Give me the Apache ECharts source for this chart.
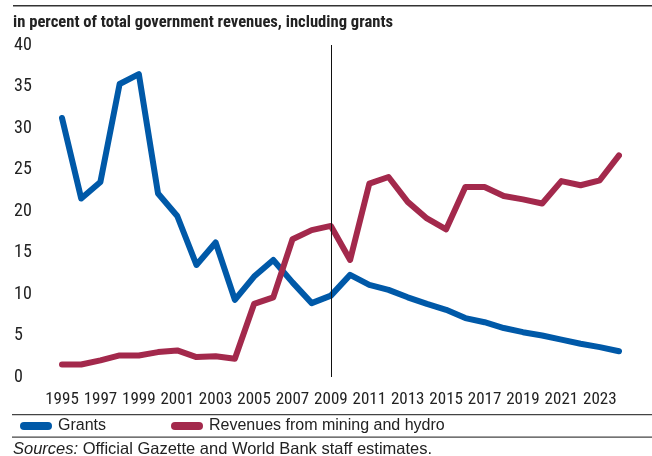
<!DOCTYPE html>
<html><head><meta charset="utf-8">
<script src="https://cdn.jsdelivr.net/npm/echarts@6/dist/echarts.min.js"></script>
<style>html,body{margin:0;padding:0;background:#fff}#c{width:652px;height:456px}</style>
</head><body><div id="c"></div>
<script>
const years = [];
for (let y = 1995; y <= 2024; y++) years.push(String(y));
const grants = [31.2,21.5,23.5,35.3,36.5,22.1,19.4,13.5,16.2,9.3,12.1,14.1,11.4,8.9,9.8,12.3,11.1,10.5,9.6,8.8,8.1,7.1,6.6,5.9,5.4,5.0,4.5,4.0,3.6,3.1];
const mining = [1.5,1.5,2.0,2.6,2.6,3.0,3.2,2.4,2.5,2.2,8.8,9.6,16.6,17.7,18.2,14.1,23.3,24.1,21.1,19.1,17.8,22.9,22.9,21.8,21.4,20.9,23.6,23.1,23.7,26.7];
const seriesNames = ['Grants', 'Revenues from mining and hydro'];
const colors = ['#0059A8', '#A3294C'];
const FONT = '"Liberation Sans Narrow", "Arial Narrow", "Roboto Condensed", "Liberation Sans", sans-serif';
const FONT2 = '"Liberation Sans", Arial, sans-serif';
const chart = echarts.init(document.getElementById('c'));
const legendX = [20, 171];
const legendGraphics = [];
seriesNames.forEach((n, i) => {
  legendGraphics.push({type: 'rect', shape: {x: legendX[i], y: 422, width: 32, height: 8, r: 4}, style: {fill: colors[i]}});
  legendGraphics.push({type: 'text', left: legendX[i] + 38, top: 418, style: {text: n, font: '16px ' + FONT2, fill: '#222'}});
});
chart.setOption({
  animation: false,
  grid: {left: 62, right: 33, top: 45, bottom: 79},
  xAxis: {
    type: 'category', data: years, boundaryGap: false,
    axisLine: {show: false}, axisTick: {show: false},
    axisLabel: {interval: 1, color: '#222', fontSize: 17, fontFamily: FONT, margin: 14}
  },
  yAxis: {
    type: 'value', min: 0, max: 40, interval: 5,
    splitLine: {show: false}, axisLine: {show: false}, axisTick: {show: false},
    axisLabel: {align: 'left', margin: 48, color: '#222', fontSize: 18, fontFamily: FONT}
  },
  series: [
    {name: seriesNames[0], type: 'line', data: grants, symbol: 'none',
     lineStyle: {width: 6, color: colors[0], cap: 'round', join: 'round'}, itemStyle: {color: colors[0]},
     markLine: {symbol: 'none', silent: true, label: {show: false},
       lineStyle: {color: '#111', width: 1, type: 'solid'}, data: [{xAxis: '2009'}]}},
    {name: seriesNames[1], type: 'line', data: mining, symbol: 'none',
     lineStyle: {width: 6, color: colors[1], cap: 'round', join: 'round'}, itemStyle: {color: colors[1]}}
  ],
  graphic: [
    {type: 'rect', shape: {x: 13, y: 5, width: 639, height: 1.5}, style: {fill: '#333'}},
    {type: 'text', left: 13, top: 14, style: {text: 'in percent of total government revenues, including grants', font: 'bold 16.6px ' + FONT, fill: '#222'}},
    {type: 'rect', shape: {x: 12, y: 414, width: 640, height: 1.2}, style: {fill: '#444'}},
    {type: 'rect', shape: {x: 12, y: 436.5, width: 640, height: 1.2}, style: {fill: '#444'}},
    {type: 'text', left: 13, top: 441, style: {
      text: '{i|Sources:} Official Gazette and World Bank staff estimates.',
      font: '16.5px ' + FONT2, fill: '#222',
      rich: {i: {fontStyle: 'italic', fontSize: 16.5, fontFamily: FONT2, fill: '#222'}}
    }}
  ].concat(legendGraphics)
});
</script></body></html>
